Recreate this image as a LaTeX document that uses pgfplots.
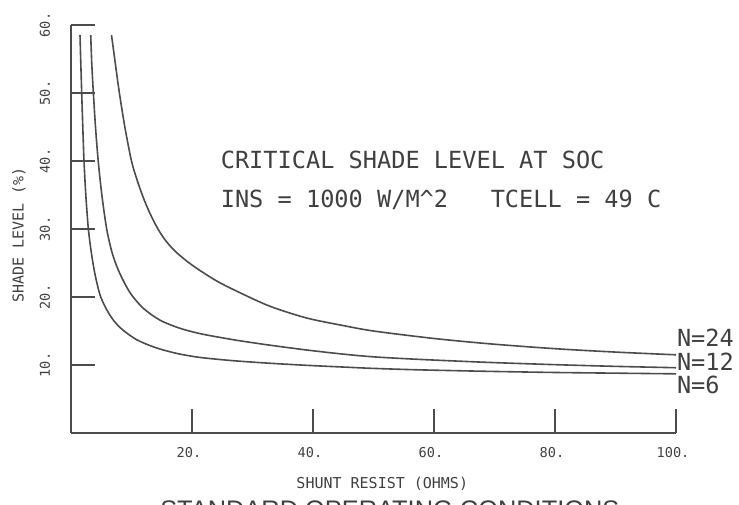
\documentclass[border=0pt]{standalone}
\usepackage{fontspec}
\setmonofont{DejaVu Sans Mono}
\setsansfont{Liberation Sans}
\usepackage{pgfplots}
\pgfplotsset{compat=1.18}
\definecolor{ink}{gray}{0.3}
\definecolor{txt}{gray}{0.25}
\newcommand{\plotfont}[1]{\ttfamily\fontsize{#1}{#1}\selectfont}
\begin{document}
\begin{tikzpicture}
\begin{axis}[
  at={(0,0)}, anchor=south west,
  width=302.5pt, height=204pt, scale only axis,
  xmin=0, xmax=100, ymin=0, ymax=60,
  axis x line=bottom, axis y line=left,
  axis line style={-, ink, line width=0.7pt},
  tick style={ink, line width=0.7pt},
  tick align=inside, major tick length=12pt,
  xtick={20,40,60,80,100}, xticklabels={20.,40.,60.,80.,100.},
  ytick={10,20,30,40,50,60}, yticklabels={10.,20.,30.,40.,50.,60.},
  tick label style={font=\plotfont{6.8}, text=txt},
  xticklabel style={anchor=center, yshift=-10pt, xshift=-1.5pt},
  yticklabel style={anchor=center, xshift=-13pt, rotate=90},
  clip=false,
]
% N=6
\addplot[ink, line width=0.8pt, smooth] coordinates {
  (1.49,58.5) (1.6,55) (1.77,50) (1.95,45) (2.15,40) (2.45,35) (2.87,30)
  (3.4,26.3) (4.0,23.2) (4.8,20.3) (5.8,18.3) (7.0,16.6) (8.5,15.2)
  (10.9,13.7) (14,12.55) (17.5,11.7) (21,11.15) (24.7,10.8) (28,10.55)
  (33,10.25) (39,9.95) (45,9.7) (50,9.5) (57,9.3) (64.5,9.15) (70,9.05)
  (80,8.9) (90,8.8) (100,8.7)};
% N=12
\addplot[ink, line width=0.8pt, smooth] coordinates {
  (3.26,58.5) (3.45,54) (3.7,50) (4.05,45) (4.5,40) (5.1,35) (5.9,30)
  (6.8,26.5) (7.8,24) (9,21.8) (10.1,20.2) (12,18.3) (14.7,16.6) (18,15.4)
  (21.4,14.6) (25,14.0) (28,13.55) (33,12.9) (39,12.2) (45,11.6) (50,11.2)
  (57,10.85) (64.5,10.55) (70,10.35) (80,10.05) (90,9.8) (100,9.6)};
% N=24
\addplot[ink, line width=0.8pt, smooth] coordinates {
  (6.7,58.5) (7.3,54.5) (8,50) (8.9,45) (10,40) (11,37) (12,34.5)
  (13,32.4) (14,30.6) (15,29.1) (16,27.9) (17.5,26.5) (20,24.7) (24,22.4)
  (28,20.6) (33,18.6) (39,16.9) (45,15.8) (50,15.0) (60,13.9) (69.4,13.1)
  (80,12.4) (90,11.9) (100,11.5)};

\node[anchor=base west, inner sep=0, text=txt, font=\plotfont{11.8}]
  at (axis cs:24.7,38.97) {CRITICAL SHADE LEVEL AT SOC};
\node[anchor=base west, inner sep=0, text=txt, font=\plotfont{11.8}]
  at (axis cs:24.7,33.1) {INS = 1000 W/M\textasciicircum2\ \ \ TCELL = 49 C};

\node[anchor=base west, inner sep=0, text=txt, font=\plotfont{11.8}]
  at (axis cs:100.1,12.65) {N=24};
\node[anchor=base west, inner sep=0, text=txt, font=\plotfont{11.8}]
  at (axis cs:100.1,9.26) {N=12};
\node[anchor=base west, inner sep=0, text=txt, font=\plotfont{11.8}]
  at (axis cs:100.1,5.88) {N=6};

\node[anchor=base, inner sep=0, text=txt, font=\plotfont{7.5}]
  at (axis cs:51.45,-8.09) {SHUNT RESIST (OHMS)};
\node[rotate=90, anchor=center, inner sep=0, text=txt, font=\plotfont{7.5}]
  at (axis cs:-8.62,29.1) {SHADE LEVEL (\%)};
\node[anchor=base, inner sep=0, text=txt,
  font=\sffamily\fontsize{12.7}{13}\selectfont]
  at (axis cs:52.7,-12.6) {STANDARD OPERATING CONDITIONS};
\end{axis}
\pgfresetboundingbox
\path[use as bounding box] (-35.5pt,-35.5pt) rectangle (334pt,216.5pt);
\end{tikzpicture}
\end{document}
